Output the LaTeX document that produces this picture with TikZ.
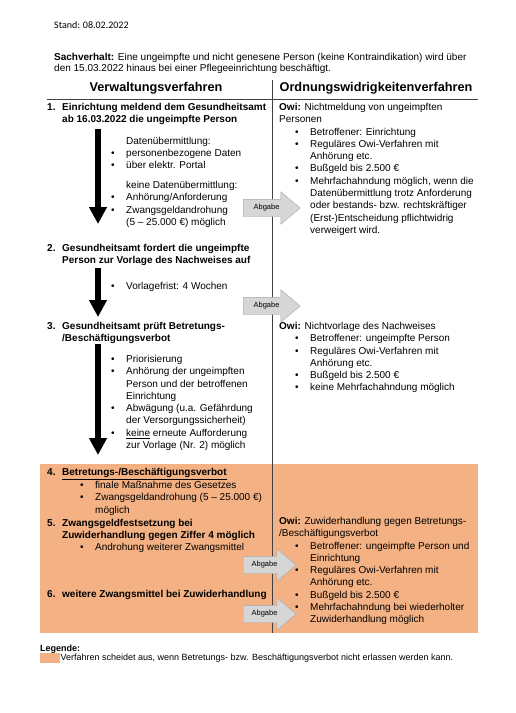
\documentclass[tikz,border=0pt]{standalone}
\usepackage{fontspec}
\setmainfont{Liberation Sans}
\newfontfamily\calfont{Carlito}
\usetikzlibrary{shapes.arrows,arrows.meta,positioning}
\definecolor{verbotorange}{HTML}{F4B183}
\definecolor{abgabefill}{HTML}{D6D6D6}
\definecolor{abgabedraw}{HTML}{A8A8A8}
\definecolor{rulegray}{HTML}{404040}
\newcommand{\nr}[1]{\makebox[15pt][l]{#1}}
\newcommand{\bul}{\makebox[15pt][l]{\textbullet}}
\newcommand{\ind}{\makebox[15pt]{}}
\newcommand{\owiind}{\makebox[16pt]{}}

\begin{document}
\begin{tikzpicture}[
    x=1pt, y=-1pt,
    txt/.style={inner sep=0pt, anchor=north west, align=left, yshift=-2pt, font=\fontsize{10}{12.3}\selectfont},
    item/.style={txt, font=\fontsize{10}{12.3}\selectfont\bfseries},
    head/.style={inner sep=0pt, font=\fontsize{12.7}{14}\selectfont\bfseries},
    abgabe/.style={single arrow, draw=abgabedraw, fill=abgabefill, anchor=tail, minimum height=57pt, inner xsep=3pt, inner ysep=5pt, single arrow head extend=7.5pt, single arrow tip angle=80, font=\fontsize{7.5}{9}\selectfont},
    downarrow/.style={-{Triangle[width=17pt,length=17pt]}, line width=5.5pt},
    rule/.style={draw=rulegray, line width=0.9pt}
]
\useasboundingbox (0,0) rectangle (515,713);

% Background for the final steps
\node [fill=verbotorange, inner sep=0pt, minimum width=438pt, minimum height=169pt, anchor=north west] (verbot) at (40,464) {};

% Head of the page
\node [txt, font=\calfont\fontsize{10}{12}\selectfont] (stand) at (54,19) {Stand: 08.02.2022};
\node [txt, font=\fontsize{10}{11.5}\selectfont] (sachverhalt) at (54,51) {\textbf{Sachverhalt:} Eine ungeimpfte und nicht genesene Person (keine Kontraindikation) wird über\\den 15.03.2022 hinaus bei einer Pflegeeinrichtung beschäftigt.};

% Table frame
\node [head] (hverwaltung) at (156,88) {Verwaltungsverfahren};
\node [head] (howi) at (376,88) {Ordnungswidrigkeitenverfahren};
\draw [rule] (47,99) -- (478,99);
\draw [rule] (272,80) -- (272,633);

% Verwaltungsverfahren
\node [item] (item1) at (47,101) {\nr{1.}Einrichtung meldend dem Gesundheitsamt\\\nr{}ab 16.03.2022 die ungeimpfte Person};
\node [txt, font=\fontsize{10}{11.8}\selectfont] (daten) at (111,135) {\ind Datenübermittlung:\\\bul personenbezogene Daten\\\bul über elektr. Portal};
\node [txt] (keinedaten) at (111,179) {\ind keine Datenübermittlung:\\\bul Anhörung/Anforderung\\\bul Zwangsgeldandrohung\\\ind (5 – 25.000 €) möglich};
\node [item] (item2) at (47,242) {\nr{2.}Gesundheitsamt fordert die ungeimpfte\\\nr{}Person zur Vorlage des Nachweises auf};
\node [txt] (frist) at (111,280) {\bul Vorlagefrist: 4 Wochen};
\node [item] (item3) at (47,320) {\nr{3.}Gesundheitsamt prüft Betretungs-\\\nr{}/Beschäftigungsverbot};
\node [txt] (pruefung) at (111,353) {\bul Priorisierung\\\bul Anhörung der ungeimpften\\\ind Person und der betroffenen\\\ind Einrichtung\\\bul Abwägung (u.a. Gefährdung\\\ind der Versorgungssicherheit)\\\bul \underline{keine} erneute Aufforderung\\\ind zur Vorlage (Nr. 2) möglich};
\node [item] (item4) at (47,466) {\nr{4.}\underline{Betretungs-/Beschäftigungsverbot}};
\node [txt] (massnahme) at (80,479) {\bul finale Maßnahme des Gesetzes\\\bul Zwangsgeldandrohung (5 – 25.000 €)\\\ind möglich};
\node [item] (item5) at (47,517) {\nr{5.}Zwangsgeldfestsetzung bei\\\nr{}Zuwiderhandlung gegen Ziffer 4 möglich};
\node [txt] (androhung) at (80,541) {\bul Androhung weiterer Zwangsmittel};
\node [item] (item6) at (47,588) {\nr{6.}weitere Zwangsmittel bei Zuwiderhandlung};

% Ordnungswidrigkeitenverfahren
\node [txt] (owi1) at (279,101) {\textbf{Owi:} Nichtmeldung von ungeimpften\\Personen\\\owiind\bul Betroffener: Einrichtung\\\owiind\bul Reguläres Owi-Verfahren mit\\\owiind\ind Anhörung etc.\\\owiind\bul Bußgeld bis 2.500 €\\\owiind\bul Mehrfachahndung möglich, wenn die\\\owiind\ind Datenübermittlung trotz Anforderung\\\owiind\ind oder bestands- bzw. rechtskräftiger\\\owiind\ind (Erst-)Entscheidung pflichtwidrig\\\owiind\ind verweigert wird.};
\node [txt] (owi3) at (279,320) {\textbf{Owi:} Nichtvorlage des Nachweises\\\owiind\bul Betroffener: ungeimpfte Person\\\owiind\bul Reguläres Owi-Verfahren mit\\\owiind\ind Anhörung etc.\\\owiind\bul Bußgeld bis 2.500 €\\\owiind\bul keine Mehrfachahndung möglich};
\node [txt] (owi5) at (279,515) {\textbf{Owi:} Zuwiderhandlung gegen Betretungs-\\/Beschäftigungsverbot\\\owiind\bul Betroffener: ungeimpfte Person und\\\owiind\ind Einrichtung\\\owiind\bul Reguläres Owi-Verfahren mit\\\owiind\ind Anhörung etc.\\\owiind\bul Bußgeld bis 2.500 €\\\owiind\bul Mehrfachahndung bei wiederholter\\\owiind\ind Zuwiderhandlung möglich};

% Abgabe
\node [abgabe] (abgabe1) at (243,208) {Abgabe};
\node [abgabe] (abgabe2) at (243,306) {Abgabe};
\node [abgabe, minimum height=53pt] (abgabe3) at (243,565) {Abgabe};
\node [abgabe, minimum height=53pt] (abgabe4) at (243,614) {Abgabe};

% Arrows
\coordinate (ax) at (98,0);
\draw [downarrow, shorten <=4pt, shorten >=20pt] (item1.south -| ax) -- (item2.north -| ax);
\draw [downarrow, shorten <=2pt, shorten >=5pt] (item2.south -| ax) -- (item3.north -| ax);
\draw [downarrow, shorten <=0pt, shorten >=13pt] (item3.south -| ax) -- (item4.north -| ax);

% Legende
\node [txt, font=\fontsize{9}{11}\selectfont\bfseries] (legende) at (40,643) {Legende:};
\node [fill=verbotorange, inner sep=0pt, minimum width=20pt, minimum height=10pt, anchor=north west] (swatch) at (40,653) {};
\node [txt, font=\fontsize{9}{11}\selectfont, anchor=west, yshift=2pt] (legtext) at (swatch.east) {Verfahren scheidet aus, wenn Betretungs- bzw. Beschäftigungsverbot nicht erlassen werden kann.};

\end{tikzpicture}
\end{document}
